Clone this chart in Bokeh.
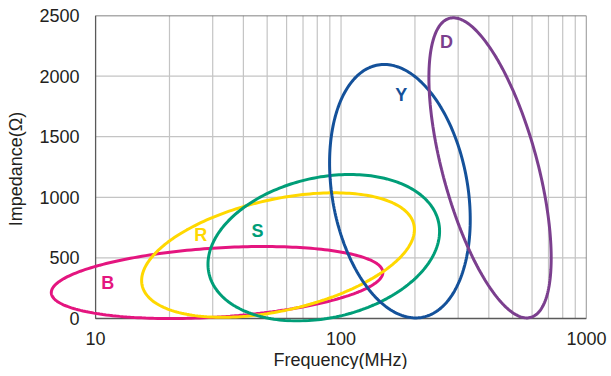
import numpy as np
from bokeh.plotting import figure
from bokeh.models import Range1d, FixedTicker, Label, Title
from bokeh.embed import file_html
from bokeh.resources import INLINE

# ---- data ----
names = ["B", "R", "S", "Y", "D"]
colors = ["#e4157f", "#ffd800", "#009e78", "#14519a", "#7b3f8e"]
f_low = [6.6, 15.4, 28.7, 89.8, 228.0]        # MHz, leftmost point of each loop
f_high = [148.0, 199.0, 252.0, 336.0, 718.0]  # MHz, rightmost point
z_low = [0, 10, -20, 5, 5]                    # Ohm, lowest point
z_high = [594, 1037, 1188, 2096, 2481]        # Ohm, highest point
z_at_f_high = [380, 734, 720, 817, 500]       # Ohm at the rightmost point
label_f = [11.2, 26.8, 45.7, 176.0, 269.0]
label_z = [289, 693, 726, 1840, 2285]

x_ticks = [10, 100, 1000]
x_minor_ticks = [20, 30, 40, 50, 60, 70, 80, 90, 200, 300, 400, 500, 600, 700, 800, 900]
y_ticks = [0, 500, 1000, 1500, 2000, 2500]
f_min, f_max = 10, 1000
z_min, z_max = 0, 2500

FONT = "Liberation Sans"
TXT = "#231f20"
GRID = "#c4c4c4"

# the frame is a little wider/lower than the chart box so the loops can overflow it
p = figure(x_axis_type="log", output_backend="svg", toolbar_location=None,
           frame_width=541, frame_height=307,
           min_border_left=45, min_border_top=15, min_border_right=24, min_border_bottom=0,
           x_range=Range1d(6.25, 1000), y_range=Range1d(-33, 2500))
p.background_fill_color = "white"
p.border_fill_color = "white"
p.outline_line_color = None
p.grid.visible = False

p.xaxis.ticker = FixedTicker(ticks=x_ticks)
p.yaxis.ticker = FixedTicker(ticks=y_ticks)
p.yaxis.bounds = (z_min, z_max)
p.xaxis.major_label_overrides = {10: "10", 100: "100", 1000: "1000"}
for ax in (p.xaxis, p.yaxis):
    ax.axis_line_color = None
    ax.major_tick_line_color = None
    ax.minor_tick_line_color = None
    ax.major_tick_out = 0
    ax.major_tick_in = 0
    ax.minor_tick_out = 0
    ax.minor_tick_in = 0
    ax.major_label_text_font = FONT
    ax.major_label_text_font_size = "18px"
    ax.major_label_text_color = TXT
    ax.axis_label_text_font = FONT
    ax.axis_label_text_font_size = "18px"
    ax.axis_label_text_font_style = "normal"
    ax.axis_label_text_color = TXT
p.yaxis.axis_label = "Impedance(Ω)"
p.xaxis.major_label_standoff = 9
p.yaxis.major_label_standoff = -34
p.yaxis.axis_label_standoff = 10

# x-axis title, shifted so it is centred under the chart box (not the wider frame)
p.add_layout(Title(text="Frequency(MHz)", align="left", offset=228,
                   text_color=TXT, text_font=FONT, text_font_size="18px",
                   text_font_style="normal", standoff=0), "below")

# grid lines inside the chart box
vx = [x for x in x_ticks + x_minor_ticks if f_min < x < f_max]
p.segment(x0=vx, x1=vx, y0=[z_min] * len(vx), y1=[z_max] * len(vx),
          line_color=GRID, line_width=1.2)
hy = [y for y in y_ticks if z_min < y < z_max]
p.segment(x0=[f_min] * len(hy), x1=[f_max] * len(hy), y0=hy, y1=hy,
          line_color=GRID, line_width=1.2)
p.quad(left=[f_min], right=[f_max], bottom=[z_min], top=[z_max],
       fill_color=None, line_color="#5a5a5a", line_width=1.3)

t = np.linspace(0, 2 * np.pi, 241)
for i in range(len(names)):
    lu, hu = np.log10(f_low[i]), np.log10(f_high[i])
    cu, ru = (lu + hu) / 2, (hu - lu) / 2
    cv, rv = (z_low[i] + z_high[i]) / 2, (z_high[i] - z_low[i]) / 2
    k = (z_at_f_high[i] - cv) / rv
    u = cu + ru * np.cos(t)
    v = cv + rv * (k * np.cos(t) + np.sqrt(1 - k * k) * np.sin(t))
    p.line(x=10 ** u, y=v, line_color=colors[i], line_width=3)
    p.add_layout(Label(x=label_f[i], y=label_z[i], text=names[i],
                       text_color=colors[i], text_font=FONT, text_font_size="18px",
                       text_font_style="bold", text_align="center", text_baseline="middle"))

open("out.html", "w").write(file_html(p, INLINE))
